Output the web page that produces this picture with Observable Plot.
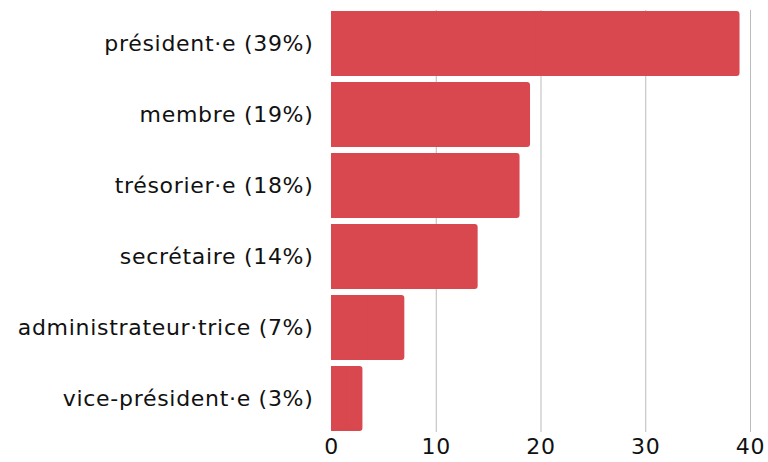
<!DOCTYPE html>
<html><head><meta charset="utf-8">
<script src="https://cdn.jsdelivr.net/npm/d3@7"></script>
<script src="https://cdn.jsdelivr.net/npm/@observablehq/plot@0.6"></script>
<style>body{margin:0;background:#fff}</style>
</head><body><div id="chart"></div>
<script>
const categories = ["président·e (39%)","membre (19%)","trésorier·e (18%)","secrétaire (14%)","administrateur·trice (7%)","vice-président·e (3%)"];
const values = [39,19,18,14,7,3];
const xTicks = [0,10,20,30,40];
const data = categories.map((c,i)=>({cat:c,value:values[i]}));
const chart = Plot.plot({
  width:768, height:462,
  marginLeft:331, marginRight:18, marginTop:10, marginBottom:30,
  style:{fontFamily:"'DejaVu Sans', sans-serif", fontSize:"22px", color:"#111", background:"#fff", letterSpacing:"0.7px"},
  x:{domain:[0,40], ticks:xTicks, label:null},
  y:{domain:categories, label:null, paddingInner:0.08, paddingOuter:0},
  marks:[
    Plot.gridX(xTicks.filter(d=>d>0), {stroke:"#bbb", strokeOpacity:1}),
    Plot.barX(data,{x:"value", y:"cat", fill:"#d9474f", rx:3}),
    Plot.barX(data,{x1:0, x2:d=>d.value/2, y:"cat", fill:"#d9474f"}),
    Plot.axisY({tickSize:0, tickPadding:18, fontSize:22}),
    Plot.axisX({tickSize:0, tickPadding:6, fontSize:22})
  ]
});
document.getElementById("chart").append(chart);
</script></body></html>
